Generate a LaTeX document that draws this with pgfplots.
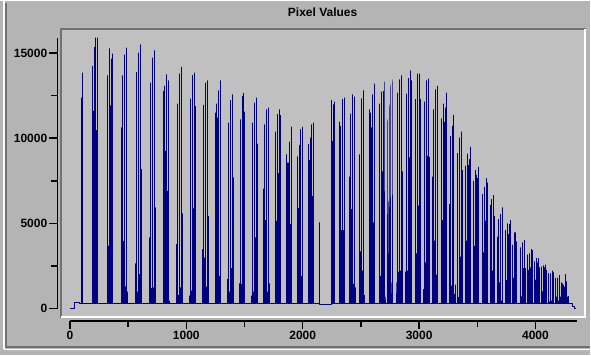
\documentclass[border=0pt]{standalone}
\usepackage{pgfplots}
\pgfplotsset{compat=1.18}
\usepackage{fontspec}
\setmainfont{Liberation Sans}
\definecolor{outerbg}{RGB}{180,180,180}
\definecolor{plotbg}{RGB}{192,192,192}
\definecolor{navyline}{RGB}{0,0,128}
\definecolor{darkedge}{RGB}{112,112,112}
\begin{document}
\begin{tikzpicture}[x=1pt,y=1pt]
\fill[outerbg] (0,0) rectangle (591,355);
% window frame
\draw[white, line width=1.5pt] (4,355) -- (4,6);
\draw[darkedge, line width=1.5pt] (6,353) -- (6,8.5) -- (591,8.5);
\draw[white, line width=1.5pt] (4,6) -- (591,6);
% plot area
\fill[plotbg] (60,37) rectangle (587,328);
\draw[darkedge, line width=2pt] (61,37) -- (61,327) -- (587,327);
\draw[white, line width=2pt] (61,38) -- (586,38) -- (586,327);
\node[anchor=base, font=\bfseries\fontsize{12}{14}\selectfont] at (323,339) {Pixel Values};

% data axis
\begin{axis}[at={(60pt,38pt)}, anchor=south west, scale only axis,
  width=525pt, height=290pt, xmin=-86, xmax=4419, ymin=-510, ymax=16485,
  hide axis, clip=false]
\addplot[navyline, line width=1pt, line join=bevel] coordinates {
(0,0)(43,0)(43,380)(84,380)(84,320)
(98.7,320)(98.7,12380)(98.7,320)(107.3,320)(107.3,13850)(107.3,320)
(193.1,320)(193.1,14240)(193.1,320)(201.6,320)(201.6,11600)(201.6,320)(210.2,320)(210.2,15350)(210.2,320)(218.8,320)(218.8,15900)(218.8,320)(227.4,320)(227.4,10470)(227.4,320)(236.0,320)(236.0,15900)(236.0,320)
(321.8,320)(321.8,13690)(321.8,320)(330.3,320)(330.3,3690)(330.3,320)(338.9,320)(338.9,15270)(338.9,320)(347.5,320)(347.5,11930)(347.5,320)(356.1,320)(356.1,14670)(356.1,320)(364.7,320)(364.7,14960)(364.7,320)
(441.9,320)(441.9,10630)(441.9,320)(450.5,320)(450.5,13690)(450.5,320)(459.0,320)(459.0,3980)(459.0,320)(467.6,320)(467.6,14900)(467.6,320)(476.2,320)(476.2,1300)(476.2,320)(484.8,320)(484.8,15310)(484.8,320)(493.4,320)(493.4,1000)(493.4,320)
(562.0,320)(562.0,2650)(562.0,320)(570.6,320)(570.6,13900)(570.6,320)(579.2,320)(579.2,1000)(579.2,320)(587.7,320)(587.7,15020)(587.7,320)(596.3,320)(596.3,2030)(596.3,320)(604.9,320)(604.9,15500)(604.9,320)(613.5,320)(613.5,8180)(613.5,320)
(682.1,320)(682.1,4180)(682.1,320)(690.7,320)(690.7,13270)(690.7,320)(699.3,320)(699.3,1200)(699.3,320)(707.9,320)(707.9,14730)(707.9,320)(716.4,320)(716.4,1250)(716.4,320)(725.0,320)(725.0,15150)(725.0,320)(733.6,320)(733.6,5940)(733.6,320)
(802.2,320)(802.2,12770)(802.2,320)(810.8,320)(810.8,13070)(810.8,320)(819.4,320)(819.4,9260)(819.4,320)(828.0,320)(828.0,13750)(828.0,320)(836.6,320)(836.6,6910)(836.6,320)(845.1,320)(845.1,13400)(845.1,320)(853.7,320)(853.7,470)(853.7,320)
(913.8,320)(913.8,3790)(913.8,320)(922.4,320)(922.4,12030)(922.4,320)(930.9,320)(930.9,800)(930.9,320)(939.5,320)(939.5,13790)(939.5,320)(948.1,320)(948.1,1250)(948.1,320)(956.7,320)(956.7,14180)(956.7,320)(965.3,320)(965.3,5590)(965.3,320)
(1025.3,320)(1025.3,760)(1025.3,320)(1033.9,320)(1033.9,12320)(1033.9,320)(1042.5,320)(1042.5,1060)(1042.5,320)(1051.1,320)(1051.1,13710)(1051.1,320)(1059.7,320)(1059.7,5880)(1059.7,320)(1068.2,320)(1068.2,13850)(1068.2,320)(1076.8,320)(1076.8,11890)(1076.8,320)
(1136.9,320)(1136.9,3500)(1136.9,320)(1145.4,320)(1145.4,11950)(1145.4,320)(1154.0,320)(1154.0,3000)(1154.0,320)(1162.6,320)(1162.6,13260)(1162.6,320)(1171.2,320)(1171.2,1290)(1171.2,320)(1179.8,320)(1179.8,13400)(1179.8,320)(1188.4,320)(1188.4,5450)(1188.4,320)
(1248.4,320)(1248.4,11500)(1248.4,320)(1257.0,320)(1257.0,12030)(1257.0,320)(1265.6,320)(1265.6,11210)(1265.6,320)(1274.1,320)(1274.1,12810)(1274.1,320)(1282.7,320)(1282.7,1930)(1282.7,320)(1291.3,320)(1291.3,13400)(1291.3,320)
(1351.4,320)(1351.4,1740)(1351.4,320)(1359.9,320)(1359.9,10920)(1359.9,320)(1368.5,320)(1368.5,1000)(1368.5,320)(1377.1,320)(1377.1,12230)(1377.1,320)(1385.7,320)(1385.7,2380)(1385.7,320)(1394.3,320)(1394.3,12580)(1394.3,320)(1402.8,320)(1402.8,7700)(1402.8,320)
(1454.3,320)(1454.3,1490)(1454.3,320)(1462.9,320)(1462.9,11110)(1462.9,320)(1471.5,320)(1471.5,1450)(1471.5,320)(1480.0,320)(1480.0,12480)(1480.0,320)(1488.6,320)(1488.6,12640)(1488.6,320)(1497.2,320)(1497.2,11560)(1497.2,320)
(1557.3,320)(1557.3,760)(1557.3,320)(1565.8,320)(1565.8,10920)(1565.8,320)(1574.4,320)(1574.4,1000)(1574.4,320)(1583.0,320)(1583.0,12090)(1583.0,320)(1591.6,320)(1591.6,4180)(1591.6,320)(1600.2,320)(1600.2,12380)(1600.2,320)(1608.8,320)(1608.8,9690)(1608.8,320)
(1660.2,320)(1660.2,7050)(1660.2,320)(1668.8,320)(1668.8,10820)(1668.8,320)(1677.4,320)(1677.4,5200)(1677.4,320)(1685.9,320)(1685.9,11700)(1685.9,320)(1694.5,320)(1694.5,1000)(1694.5,320)(1703.1,320)(1703.1,11800)(1703.1,320)(1711.7,320)(1711.7,1490)(1711.7,320)
(1763.2,320)(1763.2,10390)(1763.2,320)(1771.7,320)(1771.7,5160)(1771.7,320)(1780.3,320)(1780.3,11410)(1780.3,320)(1788.9,320)(1788.9,7950)(1788.9,320)(1797.5,320)(1797.5,11700)(1797.5,320)(1806.1,320)(1806.1,11350)(1806.1,320)
(1857.6,320)(1857.6,9060)(1857.6,320)(1866.1,320)(1866.1,8570)(1866.1,320)(1874.7,320)(1874.7,8570)(1874.7,320)(1883.3,320)(1883.3,9800)(1883.3,320)(1891.9,320)(1891.9,4960)(1891.9,320)(1900.5,320)(1900.5,10680)(1900.5,320)
(1951.9,320)(1951.9,8930)(1951.9,320)(1960.5,320)(1960.5,5900)(1960.5,320)(1969.1,320)(1969.1,9610)(1969.1,320)(1977.7,320)(1977.7,10530)(1977.7,320)(1986.3,320)(1986.3,1930)(1986.3,320)(1994.8,320)(1994.8,10660)(1994.8,320)
(2046.3,320)(2046.3,9650)(2046.3,320)(2054.9,320)(2054.9,8710)(2054.9,320)(2063.5,320)(2063.5,10040)(2063.5,320)(2072.0,320)(2072.0,10820)(2072.0,320)(2080.6,320)(2080.6,6620)(2080.6,320)(2089.2,320)(2089.2,10920)(2089.2,320)
(2140.7,320)(2140.7,5060)(2140.7,250)
(2243.7,250)(2243.7,12230)(2243.7,320)(2252.3,320)(2252.3,9840)(2252.3,320)(2260.9,320)(2260.9,11990)(2260.9,320)(2269.4,320)(2269.4,12150)(2269.4,320)
(2312.3,320)(2312.3,10980)(2312.3,320)(2320.9,320)(2320.9,10720)(2320.9,320)(2329.5,320)(2329.5,4610)(2329.5,320)(2338.0,320)(2338.0,12290)(2338.0,320)(2346.6,320)(2346.6,4610)(2346.6,320)(2355.2,320)(2355.2,12380)(2355.2,320)
(2398.1,320)(2398.1,7740)(2398.1,320)(2406.7,320)(2406.7,11450)(2406.7,320)(2415.3,320)(2415.3,5840)(2415.3,320)(2423.9,320)(2423.9,12580)(2423.9,320)(2432.4,320)(2432.4,1450)(2432.4,320)(2441.0,320)(2441.0,12440)(2441.0,320)(2449.6,320)(2449.6,1250)(2449.6,320)
(2483.9,320)(2483.9,9060)(2483.9,320)(2492.5,320)(2492.5,3360)(2492.5,320)(2501.1,320)(2501.1,12340)(2501.1,320)(2509.7,320)(2509.7,2230)(2509.7,320)(2518.3,320)(2518.3,12810)(2518.3,320)(2526.8,320)(2526.8,800)(2526.8,320)
(2569.7,320)(2569.7,11700)(2569.7,320)(2578.3,320)(2578.3,11500)(2578.3,320)(2586.9,320)(2586.9,10630)(2586.9,320)(2595.5,320)(2595.5,12580)(2595.5,320)(2604.0,320)(2604.0,5060)(2604.0,320)(2612.6,320)(2612.6,13200)(2612.6,320)
(2655.5,320)(2655.5,12030)(2655.5,320)(2664.1,320)(2664.1,1930)(2664.1,320)(2672.7,320)(2672.7,12730)(2672.7,320)(2681.3,320)(2681.3,8050)(2681.3,320)(2689.9,320)(2689.9,12770)(2689.9,320)(2698.4,320)(2698.4,13320)(2698.4,320)(2707.0,320)(2707.0,700)(2707.0,320)
(2732.7,320)(2732.7,11110)(2732.7,320)(2741.3,320)(2741.3,6330)(2741.3,320)(2749.9,320)(2749.9,11990)(2749.9,320)(2758.4,320)(2758.4,13160)(2758.4,320)(2767.0,320)(2767.0,1540)(2767.0,320)(2775.6,320)(2775.6,13460)(2775.6,320)
(2809.9,320)(2809.9,1540)(2809.9,320)(2818.4,320)(2818.4,12680)(2818.4,320)(2827.0,320)(2827.0,2170)(2827.0,320)(2835.6,320)(2835.6,13460)(2835.6,320)(2844.2,320)(2844.2,2230)(2844.2,320)(2852.8,320)(2852.8,13690)(2852.8,320)(2861.4,320)(2861.4,8050)(2861.4,320)
(2887.2,320)(2887.2,2170)(2887.2,320)(2895.8,320)(2895.8,12620)(2895.8,320)(2904.3,320)(2904.3,2230)(2904.3,320)(2912.9,320)(2912.9,13520)(2912.9,320)(2921.5,320)(2921.5,8870)(2921.5,320)(2930.1,320)(2930.1,13980)(2930.1,320)(2938.7,320)(2938.7,13400)(2938.7,320)
(2973.0,320)(2973.0,12290)(2973.0,320)(2981.6,320)(2981.6,3240)(2981.6,320)(2990.1,320)(2990.1,13790)(2990.1,320)(2998.7,320)(2998.7,6040)(2998.7,320)(3007.3,320)(3007.3,13790)(3007.3,320)(3015.9,320)(3015.9,12290)(3015.9,320)
(3041.6,320)(3041.6,1150)(3041.6,320)(3050.2,320)(3050.2,12150)(3050.2,320)(3058.8,320)(3058.8,2720)(3058.8,320)(3067.4,320)(3067.4,13400)(3067.4,320)(3075.9,320)(3075.9,8970)(3075.9,320)(3084.5,320)(3084.5,13500)(3084.5,320)(3093.1,320)(3093.1,8910)(3093.1,320)
(3118.8,320)(3118.8,7740)(3118.8,320)(3127.4,320)(3127.4,11700)(3127.4,320)(3136.0,320)(3136.0,3990)(3136.0,320)(3144.6,320)(3144.6,12870)(3144.6,320)(3153.2,320)(3153.2,2000)(3153.2,320)(3161.7,320)(3161.7,13070)(3161.7,320)
(3196.0,320)(3196.0,11170)(3196.0,320)(3204.6,320)(3204.6,5200)(3204.6,320)(3213.2,320)(3213.2,12030)(3213.2,320)(3221.8,320)(3221.8,10960)(3221.8,320)(3230.3,320)(3230.3,11800)(3230.3,320)(3238.9,320)(3238.9,12680)(3238.9,320)
(3264.7,320)(3264.7,6130)(3264.7,320)(3273.3,320)(3273.3,10140)(3273.3,320)(3281.9,320)(3281.9,1350)(3281.9,320)(3290.4,320)(3290.4,10720)(3290.4,320)(3299.0,320)(3299.0,11370)(3299.0,320)(3307.6,320)(3307.6,860)(3307.6,320)(3316.2,320)(3316.2,1410)(3316.2,320)
(3333.3,320)(3333.3,9120)(3333.3,320)(3341.9,320)(3341.9,670)(3341.9,320)(3350.5,320)(3350.5,10040)(3350.5,320)(3359.1,320)(3359.1,3050)(3359.1,320)(3367.7,320)(3367.7,10390)(3367.7,320)(3376.3,320)(3376.3,8130)(3376.3,320)
(3402.0,320)(3402.0,8380)(3402.0,320)(3410.6,320)(3410.6,3990)(3410.6,320)(3419.2,320)(3419.2,9100)(3419.2,320)(3427.8,320)(3427.8,8420)(3427.8,320)(3436.3,320)(3436.3,8770)(3436.3,320)(3444.9,320)(3444.9,9490)(3444.9,320)
(3470.6,320)(3470.6,7500)(3470.6,320)(3479.2,320)(3479.2,3690)(3479.2,320)(3487.8,320)(3487.8,8130)(3487.8,320)(3496.4,320)(3496.4,7850)(3496.4,320)(3504.9,320)(3504.9,7660)(3504.9,320)(3513.5,320)(3513.5,8320)(3513.5,320)
(3547.8,320)(3547.8,6720)(3547.8,320)(3556.4,320)(3556.4,3300)(3556.4,320)(3565.0,320)(3565.0,7150)(3565.0,320)(3573.6,320)(3573.6,5160)(3573.6,320)(3582.2,320)(3582.2,7660)(3582.2,320)(3590.7,320)(3590.7,7400)(3590.7,320)
(3616.5,320)(3616.5,6070)(3616.5,320)(3625.1,320)(3625.1,6430)(3625.1,320)(3633.7,320)(3633.7,2230)(3633.7,320)(3642.3,320)(3642.3,6660)(3642.3,320)(3650.8,320)(3650.8,5450)(3650.8,320)
(3676.5,320)(3676.5,4220)(3676.5,320)(3685.1,320)(3685.1,5260)(3685.1,320)(3693.7,320)(3693.7,1540)(3693.7,320)(3702.3,320)(3702.3,5550)(3702.3,320)(3710.9,320)(3710.9,470)(3710.9,320)(3719.5,320)(3719.5,5940)(3719.5,320)
(3745.2,320)(3745.2,4610)(3745.2,320)(3753.8,320)(3753.8,1680)(3753.8,320)(3762.4,320)(3762.4,5000)(3762.4,320)(3770.9,320)(3770.9,4380)(3770.9,320)(3779.5,320)(3779.5,4960)(3779.5,320)(3788.1,320)(3788.1,5200)(3788.1,320)
(3805.2,320)(3805.2,3750)(3805.2,320)(3813.8,320)(3813.8,1800)(3813.8,320)(3822.4,320)(3822.4,4470)(3822.4,320)(3831.0,320)(3831.0,4470)(3831.0,320)(3839.6,320)(3839.6,3950)(3839.6,320)
(3873.9,320)(3873.9,3590)(3873.9,320)(3882.4,320)(3882.4,720)(3882.4,320)(3891.0,320)(3891.0,3890)(3891.0,320)(3899.6,320)(3899.6,2380)(3899.6,320)(3908.2,320)(3908.2,4020)(3908.2,320)(3916.8,320)(3916.8,2380)(3916.8,320)
(3933.9,320)(3933.9,3170)(3933.9,320)(3942.5,320)(3942.5,2270)(3942.5,320)(3951.1,320)(3951.1,3240)(3951.1,320)(3959.7,320)(3959.7,2420)(3959.7,320)(3968.3,320)(3968.3,3500)(3968.3,320)(3976.9,320)(3976.9,3440)(3976.9,320)
(3994.0,320)(3994.0,2770)(3994.0,320)(4002.6,320)(4002.6,1700)(4002.6,320)(4011.2,320)(4011.2,2970)(4011.2,320)(4019.8,320)(4019.8,2720)(4019.8,320)(4028.3,320)(4028.3,2970)(4028.3,320)(4036.9,320)(4036.9,2420)(4036.9,320)
(4054.1,320)(4054.1,2460)(4054.1,320)(4062.7,320)(4062.7,1020)(4062.7,320)(4071.3,320)(4071.3,2540)(4071.3,320)(4079.8,320)(4079.8,2420)(4079.8,320)(4088.4,320)(4088.4,2580)(4088.4,320)(4097.0,320)(4097.0,2270)(4097.0,320)
(4114.1,320)(4114.1,2090)(4114.1,320)(4122.7,320)(4122.7,430)(4122.7,320)(4131.3,320)(4131.3,2070)(4131.3,320)(4139.9,320)(4139.9,470)(4139.9,320)(4148.5,320)(4148.5,2230)(4148.5,320)(4157.0,320)(4157.0,2130)(4157.0,320)
(4174.2,320)(4174.2,1800)(4174.2,320)(4182.8,320)(4182.8,700)(4182.8,320)(4191.4,320)(4191.4,1800)(4191.4,320)(4199.9,320)(4199.9,470)(4199.9,320)(4208.5,320)(4208.5,1970)(4208.5,320)(4217.1,320)(4217.1,700)(4217.1,320)
(4225.7,320)(4225.7,1540)(4225.7,320)(4234.3,320)(4234.3,1490)(4234.3,320)(4242.8,320)(4242.8,1410)(4242.8,320)(4251.4,320)(4251.4,1290)(4251.4,320)(4260.0,320)(4260.0,2030)(4260.0,320)(4268.6,320)(4268.6,1600)(4268.6,320)(4277.2,320)(4277.2,700)(4277.2,320)(4285.8,320)(4285.8,740)(4285.8,320)
(4322,320)(4322,120)(4331,120)(4331,0)(4352,0)
};
\end{axis}

% y axis
\begin{axis}[at={(57.5pt,46.7pt)}, anchor=south west, scale only axis,
  width=10pt, height=271.3pt, xmin=0, xmax=1, ymin=0, ymax=15898,
  axis y line=left, axis x line=none, xtick=\empty,
  axis line style={-, line width=1.7pt},
  ytick={0,5000,10000,15000}, minor ytick={2500,7500,12500},
  tick align=outside, major tick length=8pt, minor tick length=6pt,
  every tick/.style={black, line width=1.5pt},
  scaled y ticks=false,
  /pgf/number format/assume math mode=true,
  /pgf/number format/1000 sep={},
  yticklabel style={font=\bfseries\fontsize{12}{14}\selectfont, inner sep=0pt, anchor=east, xshift=-2pt}]
\end{axis}

% x axis
\begin{axis}[at={(70pt,34.2pt)}, anchor=south west, scale only axis,
  width=508pt, height=10pt, xmin=0, xmax=4359, ymin=0, ymax=1,
  axis x line=bottom, axis y line=none, ytick=\empty,
  axis line style={-, line width=1.7pt},
  xtick={0,1000,2000,3000,4000}, minor xtick={500,1500,2500,3500},
  tick align=outside, major tick length=8pt, minor tick length=6pt,
  every tick/.style={black, line width=1.5pt},
  scaled x ticks=false,
  /pgf/number format/assume math mode=true,
  /pgf/number format/1000 sep={},
  xticklabel style={font=\bfseries\fontsize{12}{14}\selectfont, inner sep=0pt, anchor=north, yshift=-2pt}]
\end{axis}
\end{tikzpicture}
\end{document}
